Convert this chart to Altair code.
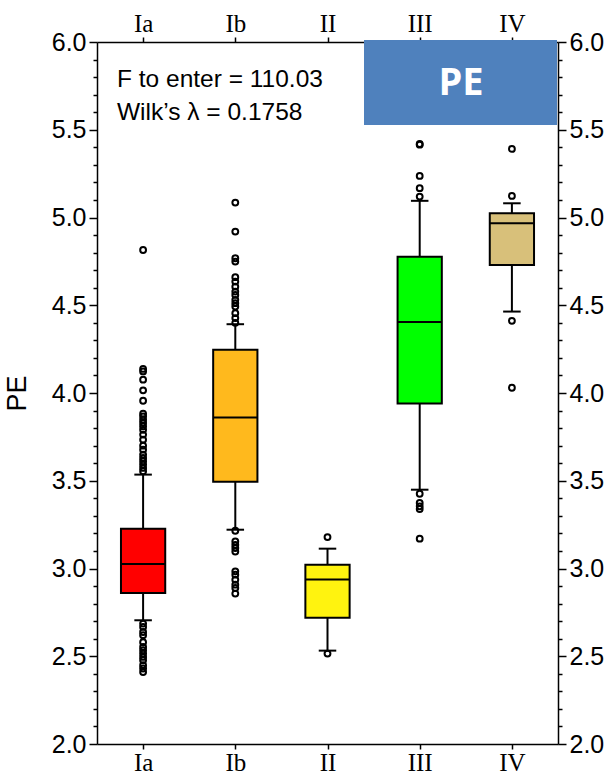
import altair as alt
import pandas as pd

groups = ["Ia", "Ib", "II", "III", "IV"]
positions = [1, 2, 3, 4, 5]
q1 = [2.860, 3.495, 2.720, 3.940, 4.730]
median = [3.025, 3.860, 2.937, 4.404, 4.967]
q3 = [3.226, 4.246, 3.022, 4.776, 5.024]
whisker_low = [2.705, 3.221, 2.532, 3.449, 4.464]
whisker_high = [3.535, 4.392, 3.113, 5.095, 5.081]
fills = ["#FF0000", "#FFB91D", "#FFF30F", "#00FF00", "#D8C07A"]

outliers_Ia = [4.815, 4.137, 4.123, 4.076, 4.015, 3.956, 3.882, 3.867, 3.848, 3.829,
               3.810, 3.790, 3.763, 3.734, 3.700, 3.677, 3.649, 3.630, 3.611, 3.592,
               3.573, 3.554, 2.686, 2.667, 2.638, 2.620, 2.580, 2.553, 2.534, 2.515,
               2.496, 2.477, 2.449, 2.430, 2.410]
outliers_Ib = [5.085, 4.920, 4.768, 4.749, 4.660, 4.635, 4.606, 4.578, 4.559, 4.531,
               4.512, 4.493, 4.455, 4.427, 4.400, 3.215, 3.154, 3.135, 3.117, 3.097,
               2.984, 2.965, 2.936, 2.908, 2.889, 2.857]
outliers_II = [3.179, 2.515]
outliers_III = [5.419, 5.415, 5.237, 5.167, 5.119, 3.426, 3.373, 3.354, 3.339, 3.170]
outliers_IV = [5.391, 5.123, 4.411, 4.030]

annotation_lines = ["F to enter = 110.03", "Wilk\u2019s \u03bb = 0.1758"]
badge_label = "PE"

box_df = pd.DataFrame({
    "group": groups, "pos": positions, "q1": q1, "med": median, "q3": q3,
    "lo": whisker_low, "hi": whisker_high, "fill": fills,
})
out_rows = []
for g, p, vals in zip(groups, positions,
                      [outliers_Ia, outliers_Ib, outliers_II, outliers_III, outliers_IV]):
    for v in vals:
        out_rows.append({"group": g, "pos": p, "val": v})
out_df = pd.DataFrame(out_rows)

XD = [0.5, 5.5]
YD = [2.0, 6.0]
minor_vals = [round(2.0 + 0.1 * i, 1) for i in range(41)]
major_test = "abs(datum.value*2 - round(datum.value*2)) < 0.001"
label_expr = f"{major_test} ? format(datum.value, '.1f') : ''"
x_label_expr = "['Ia','Ib','II','III','IV'][round(datum.value)-1]"

def yaxis(orient, title=None):
    kw = dict(
        orient=orient, values=minor_vals, labelExpr=label_expr,
        tickSize={"condition": {"test": major_test, "value": 8}, "value": 4},
        labelFont="Liberation Sans", labelFontSize=25, labelColor="black",
        labelOverlap=False, labelFlush=False, labelPadding=3,
        tickColor="black", tickWidth=1.5, domainColor="black", domainWidth=1.5,
        grid=False, title=title,
    )
    if title:
        kw.update(titleFont="Liberation Sans", titleFontSize=27,
                  titleFontWeight="normal", titleColor="black", titlePadding=20)
    return alt.Axis(**kw)

def xaxis(orient):
    return alt.Axis(
        orient=orient, values=positions, labelExpr=x_label_expr,
        labelFont="Liberation Serif", labelFontSize=25, labelColor="black",
        labelFlush=False, labelOverlap=False, labelPadding=1,
        tickSize=5, tickColor="black", tickWidth=1.5,
        domainColor="black", domainWidth=1.5, grid=False, title=None,
    )

xs = alt.Scale(domain=XD, nice=False, zero=False)
ys = alt.Scale(domain=YD, nice=False, zero=False)

base = alt.Chart(box_df).transform_calculate(
    xl="datum.pos - 0.24", xr="datum.pos + 0.24",
    cl="datum.pos - 0.095", cr="datum.pos + 0.095",
)

w_low = base.mark_rule(color="black", strokeWidth=2).encode(
    x=alt.X("pos:Q", scale=xs, axis=xaxis("top")),
    y=alt.Y("lo:Q", scale=ys, axis=yaxis("right")),
    y2="q1:Q",
)
w_high = base.mark_rule(color="black", strokeWidth=2).encode(
    x=alt.X("pos:Q", scale=xs, axis=None),
    y=alt.Y("q3:Q", scale=ys, axis=None),
    y2="hi:Q",
)
cap_low = base.mark_rule(color="black", strokeWidth=2).encode(
    x=alt.X("cl:Q", scale=xs, axis=None), x2="cr:Q",
    y=alt.Y("lo:Q", scale=ys, axis=None),
)
cap_high = base.mark_rule(color="black", strokeWidth=2).encode(
    x=alt.X("cl:Q", scale=xs, axis=None), x2="cr:Q",
    y=alt.Y("hi:Q", scale=ys, axis=None),
)
boxes = base.mark_rect(stroke="black", strokeWidth=2).encode(
    x=alt.X("xl:Q", scale=xs, axis=xaxis("bottom")), x2="xr:Q",
    y=alt.Y("q1:Q", scale=ys, axis=yaxis("left", "PE")), y2="q3:Q",
    fill=alt.Fill("fill:N", scale=None),
)
med = base.mark_rule(color="black", strokeWidth=2).encode(
    x=alt.X("xl:Q", scale=xs, axis=None), x2="xr:Q",
    y=alt.Y("med:Q", scale=ys, axis=None),
)
pts = alt.Chart(out_df).mark_point(
    shape="circle", filled=False, color="black", size=34, strokeWidth=2, opacity=1
).encode(
    x=alt.X("pos:Q", scale=xs, axis=None),
    y=alt.Y("val:Q", scale=ys, axis=None),
)

ann_df = pd.DataFrame({"t": annotation_lines, "row": [0, 1]})
ann = alt.Chart(ann_df).mark_text(
    align="left", baseline="middle", font="Liberation Sans", fontSize=24.5, color="black"
).transform_calculate(py="38 + datum.row * 33").encode(
    x=alt.value(20), y=alt.Y("py:Q", scale=None, axis=None), text="t:N",
)

badge = alt.Chart(pd.DataFrame({"t": [badge_label]})).mark_rect(
    color="#4F81BD"
).encode(
    x=alt.value(267), x2=alt.value(460), y=alt.value(-2), y2=alt.value(83),
)
badge_text = alt.Chart(pd.DataFrame({"t": [badge_label]})).mark_text(
    font="Open Sans", fontWeight="bold", fontSize=38, color="white",
    align="center", baseline="middle",
).encode(x=alt.value(364), y=alt.value(42), text="t:N")

chart = alt.layer(
    w_low, w_high, cap_low, cap_high, boxes, med, pts, ann, badge, badge_text
).resolve_axis(x="independent", y="independent").properties(
    width=461, height=702,
    autosize=alt.AutoSizeParams(type="none"),
    padding={"left": 97, "top": 42, "right": 56, "bottom": 32},
).configure_view(stroke=None).configure(background="white")

chart.save("out.html", embed_options={"renderer": "svg", "actions": False})
